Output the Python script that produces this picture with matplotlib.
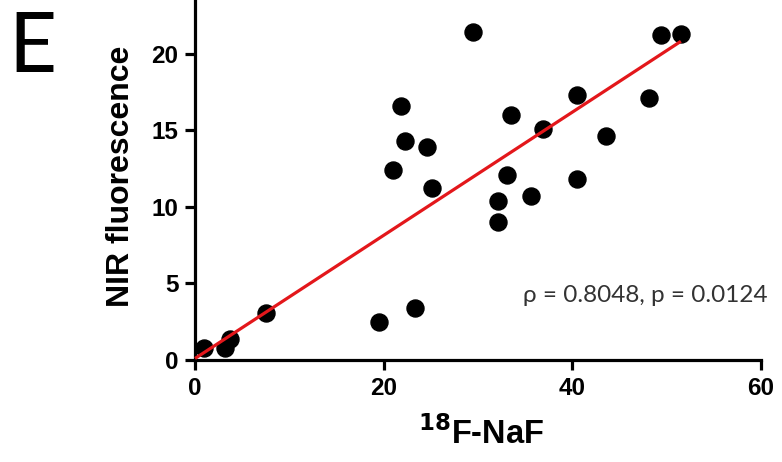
import numpy as np
import matplotlib.pyplot as plt

# values
naf = [0.9, 3.2, 3.7, 7.5, 19.5, 23.3, 29.5, 49.4, 51.5, 21.8, 22.3, 24.6, 21.0, 25.1,
       33.5, 36.9, 40.5, 48.1, 43.6, 33.1, 40.5, 35.6, 32.1, 32.1]
nir = [0.8, 0.8, 1.4, 3.1, 2.5, 3.4, 21.4, 21.2, 21.3, 16.6, 14.3, 13.9, 12.4, 11.2,
       16.0, 15.1, 17.3, 17.1, 14.6, 12.1, 11.8, 10.7, 10.4, 9.0]
fit_slope = 0.402
fit_intercept = 0.1
fit_range = [0.0, 51.5]

xticks = [0, 20, 40, 60]
yticks = [0, 5, 10, 15, 20]
stats_text = "\u03c1 = 0.8048, p = 0.0124"

fig = plt.figure(figsize=(7.82, 4.62), dpi=100)
ax = fig.add_axes([0.2494, 0.2208, 0.7238, 0.7792])

ax.scatter(naf, nir, s=150, c="black", marker="o", zorder=3, clip_on=False)
fx = np.array(fit_range)
ax.plot(fx, fit_intercept + fit_slope * fx, color="#e3171b", lw=2.3, zorder=4,
        solid_capstyle="butt", clip_on=False)

ax.set_xlim(0, 60)
ax.set_ylim(0, 23.5)
ax.set_xticks(xticks)
ax.set_yticks(yticks)
for s in ["top", "right"]:
    ax.spines[s].set_visible(False)
for s in ["left", "bottom"]:
    ax.spines[s].set_linewidth(2.3)
ax.tick_params(direction="out", length=7, width=2.3, labelsize=17.5, pad=5)
for lab in ax.get_xticklabels() + ax.get_yticklabels():
    lab.set_fontweight("bold")
    lab.set_family("Liberation Sans")

ax.set_ylabel("NIR fluorescence", fontsize=23, fontweight="bold",
              family="Liberation Sans")
ax.yaxis.set_label_coords(-0.104, 0.51)
ax.set_xlabel("$\\mathbf{^{18}}$F-NaF", fontsize=23.5, fontweight="bold",
              family="Liberation Sans")
ax.xaxis.set_label_coords(0.505, -0.155)

ax.text(1.012, 0.18, stats_text, transform=ax.transAxes, ha="right", va="center",
        fontsize=17.5, color="#333333", family="Lato")
fig.text(0.041, 0.895, "E", fontsize=60, family="Lato", ha="center",
         va="center")

fig.savefig("out.png", dpi=100)
